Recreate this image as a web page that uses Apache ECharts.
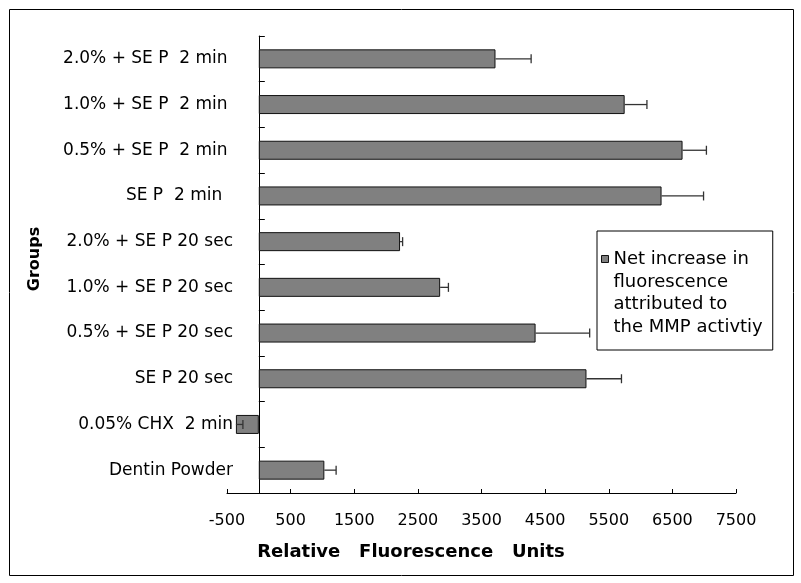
<!DOCTYPE html>
<html>
<head>
<meta charset="utf-8">
<script src="https://cdn.jsdelivr.net/npm/echarts@6/dist/echarts.min.js"></script>
<style>
html,body{margin:0;padding:0;background:#fff;}
#chart{width:801px;height:583px;}
</style>
</head>
<body>
<div id="chart"></div>
<script>
// categories listed bottom-to-top (ECharts category y axis runs upward)
const categories = [
  'Dentin Powder',
  '0.05% CHX  2 min',
  'SE P 20 sec',
  '0.5% + SE P 20 sec',
  '1.0% + SE P 20 sec',
  '2.0% + SE P 20 sec',
  'SE P  2 min  ',
  '0.5% + SE P  2 min ',
  '1.0% + SE P  2 min ',
  '2.0% + SE P  2 min '
];
const values = [1030, -360, 5150, 4350, 2850, 2220, 6330, 6660, 5750, 3720];
const errors = [185, 110, 550, 850, 130, 40, 660, 375, 350, 560];
const seriesName = 'Net increase in\nfluorescence\nattributed to\nthe MMP activtiy';
const xTitle = 'Relative   Fluorescence   Units';
const yTitle = 'Groups';
const xMin = -500, xMax = 7500, xInterval = 1000;

const FONT = 'DejaVu Sans';
const chart = echarts.init(document.getElementById('chart'), null, {renderer: 'canvas'});

const option = {
  backgroundColor: '#fff',
  animation: false,
  grid: {left: 227, right: 65, top: 36, bottom: 90, containLabel: false},
  legend: {
    show: true,
    left: 597,
    top: 231,
    orient: 'vertical',
    data: [seriesName],
    icon: 'path://M0,7H7V14H0Z M0,0 M7,90',
    itemWidth: 7,
    itemHeight: 90,
    itemStyle: {color: '#808080', borderColor: '#111', borderWidth: 1},
    borderColor: '#000',
    borderWidth: 1,
    padding: [17, 10, 11, 4],
    textStyle: {fontFamily: FONT, fontSize: 18, color: '#000', lineHeight: 22.5},
    selectedMode: false
  },
  xAxis: {
    type: 'value',
    min: xMin,
    max: xMax,
    interval: xInterval,
    position: 'bottom',
    axisLine: {show: true, onZero: false, lineStyle: {color: '#000', width: 1}},
    axisTick: {show: true, inside: true, length: 4, lineStyle: {color: '#000'}},
    axisLabel: {fontFamily: FONT, fontSize: 16, color: '#000', margin: 20, formatter: v => String(v)},
    splitLine: {show: false}
  },
  yAxis: {
    type: 'category',
    data: categories,
    axisLine: {show: true, onZero: true, lineStyle: {color: '#000', width: 1}},
    axisTick: {show: true, inside: true, length: 6, lineStyle: {color: '#000'}},
    axisLabel: {fontFamily: FONT, fontSize: 17, color: '#000', margin: -6},
    splitLine: {show: false}
  },
  series: [
    {
      name: seriesName,
      type: 'bar',
      data: values,
      barWidth: 19,
      itemStyle: {color: '#808080', borderColor: '#111', borderWidth: 1}
    },
    {
      name: 'error',
      type: 'custom',
      data: values.map((v, i) => [v, i, v + errors[i]]),
      encode: {x: [0, 2], y: 1},
      z: 3,
      renderItem: function (params, api) {
        const yi = api.value(1);
        const p0 = api.coord([api.value(0), yi]);
        const p1 = api.coord([api.value(2), yi]);
        const h = 4.5;
        const style = {stroke: '#333', lineWidth: 1.3};
        return {
          type: 'group',
          children: [
            {type: 'line', shape: {x1: p0[0], y1: p0[1], x2: p1[0], y2: p1[1]}, style: style},
            {type: 'line', shape: {x1: p1[0], y1: p1[1] - h, x2: p1[0], y2: p1[1] + h}, style: style}
          ]
        };
      }
    }
  ],
  graphic: [
    {type: 'rect', shape: {x: 9.5, y: 9.5, width: 784, height: 566}, style: {fill: 'none', stroke: '#000', lineWidth: 1}, z: -1},
    {type: 'text', x: 411, y: 552, style: {text: xTitle, fontFamily: FONT, fontSize: 18, fontWeight: 'bold', fill: '#000', textAlign: 'center', textVerticalAlign: 'middle'}},
    {type: 'text', x: 35, y: 259, rotation: Math.PI / 2, style: {text: yTitle, fontFamily: FONT, fontSize: 16, fontWeight: 'bold', fill: '#000', textAlign: 'center', textVerticalAlign: 'middle'}}
  ]
};
chart.setOption(option);
</script>
</body>
</html>
